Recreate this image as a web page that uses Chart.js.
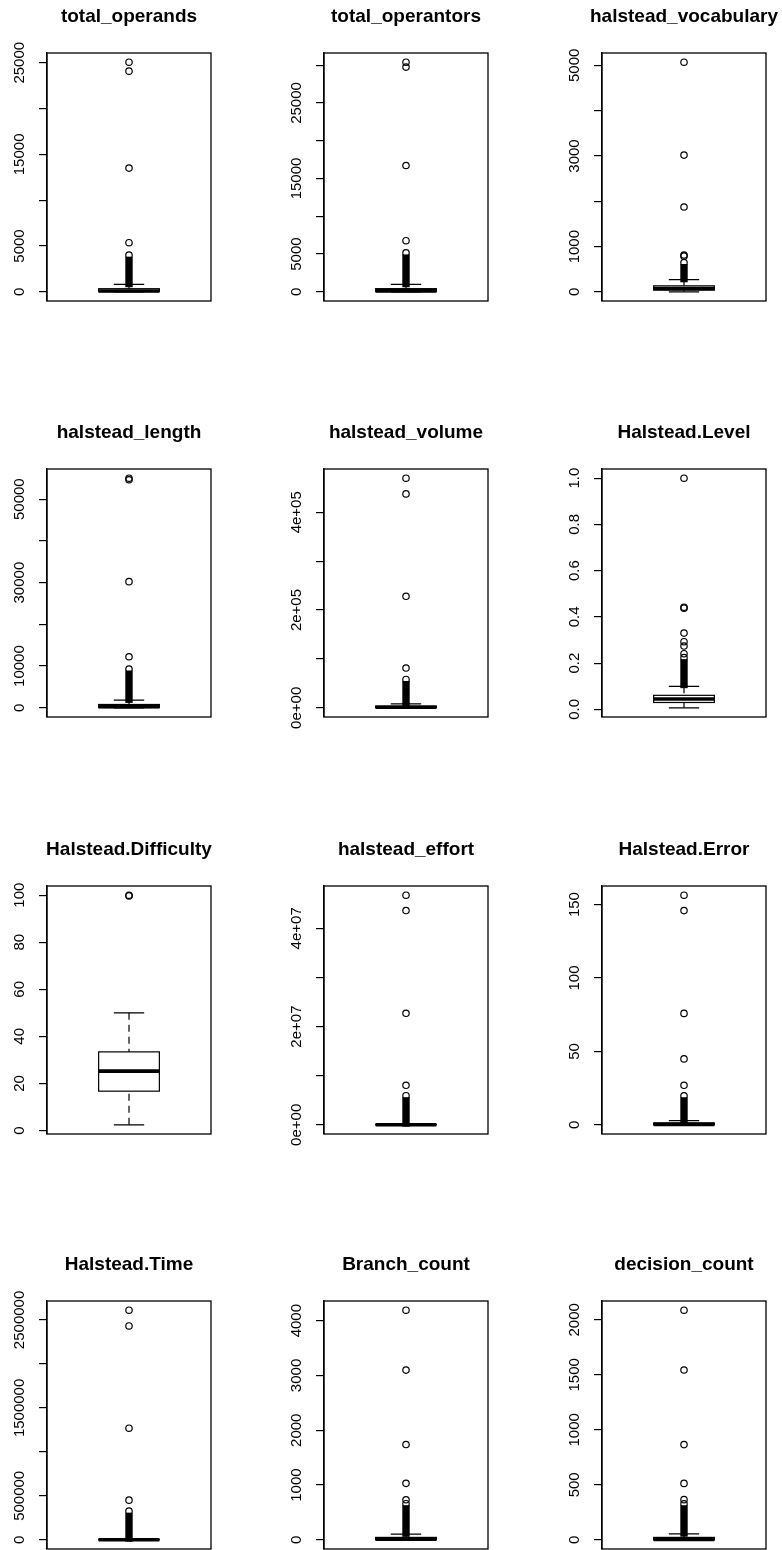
<!doctype html>
<html lang="en">
<head>
<meta charset="utf-8">
<title>Halstead metric boxplots</title>
<style>
  * { margin: 0; padding: 0; }
  html, body { width: 782px; height: 1550px; overflow: hidden; background: #fff; }
  canvas { position: absolute; }
</style>
</head>
<body>
<script src="https://cdn.jsdelivr.net/npm/chart.js/dist/chart.umd.min.js"></script>
<script>
// values
const titles = ['total_operands', 'total_operantors', 'halstead_vocabulary',
  'halstead_length', 'halstead_volume', 'Halstead.Level',
  'Halstead.Difficulty', 'halstead_effort', 'Halstead.Error',
  'Halstead.Time', 'Branch_count', 'decision_count'];

const whiskLo = [0, 0, 3, 0, 0, 0.007, 2.4, 0, 0, 0, 1, 0];
const q1 = [25, 35, 40, 60, 200, 0.030, 16.7, 2000, 0.05, 100, 3, 0];
const medians = [90, 120, 75, 250, 1200, 0.045, 25.2, 15000, 0.3, 800, 10, 4];
const q3 = [340, 420, 135, 800, 3500, 0.061, 33.4, 90000, 1.3, 5000, 45, 22];
const whiskHi = [810, 990, 270, 1850, 8200, 0.100, 50, 220000, 2.9, 12000, 105, 54];

// dense run of overlapping outlier circles just above the upper whisker
const denseLo = [830, 1000, 280, 1900, 8500, 0.105, null, 230000, 3.0, 12500, 110, 56];
const denseHi = [4000, 5150, 650, 9300, 58000, 0.224, null, 5930000, 19.8, 326000, 660, 328];

// separate outliers above the dense run
const outliers = [
  [5360, 13500, 24080, 25060],
  [6770, 16720, 29750, 30400],
  [790, 815, 1875, 3020, 5070],
  [12235, 30230, 54650, 55030],
  [81400, 228100, 437700, 469800],
  [0.241, 0.274, 0.293, 0.330, 0.438, 0.442, 1.0],
  [99.7, 100],
  [8040000, 22700000, 43620000, 46750000],
  [26.9, 44.9, 75.9, 145.9, 156.4],
  [451000, 1269000, 2432000, 2611000],
  [732, 1031, 1739, 3098, 4191],
  [365, 513, 866, 1544, 2088]
];

const tickValues = [
  [0, 5000, 10000, 15000, 20000, 25000],
  [0, 5000, 10000, 15000, 20000, 25000, 30000],
  [0, 1000, 2000, 3000, 4000, 5000],
  [0, 10000, 20000, 30000, 40000, 50000],
  [0, 100000, 200000, 300000, 400000],
  [0, 0.2, 0.4, 0.6, 0.8, 1.0],
  [0, 20, 40, 60, 80, 100],
  [0, 10000000, 20000000, 30000000, 40000000],
  [0, 50, 100, 150],
  [0, 500000, 1000000, 1500000, 2000000, 2500000],
  [0, 1000, 2000, 3000, 4000],
  [0, 500, 1000, 1500, 2000]
];
const tickLabels = [
  ['0', '5000', '', '15000', '', '25000'],
  ['0', '5000', '', '15000', '', '25000', ''],
  ['0', '1000', '', '3000', '', '5000'],
  ['0', '10000', '', '30000', '', '50000'],
  ['0e+00', '', '2e+05', '', '4e+05'],
  ['0.0', '0.2', '0.4', '0.6', '0.8', '1.0'],
  ['0', '20', '40', '60', '80', '100'],
  ['0e+00', '', '2e+07', '', '4e+07'],
  ['0', '50', '100', '150'],
  ['0', '500000', '', '1500000', '', '2500000'],
  ['0', '1000', '2000', '3000', '4000'],
  ['0', '500', '1000', '1500', '2000']
];

// page layout: plot frames of the 4 x 3 grid
const colLeft = [47, 324, 602];
const rowTop = [53, 469, 886, 1301];
const plotW = 164, plotH = 248, marginL = 47, marginT = 53, marginB = 40;

const FONT = 'Liberation Sans, Arial, Helvetica, sans-serif';
Chart.defaults.font.family = FONT;
Chart.defaults.color = '#000';

// draws box, whiskers, median and the dense outlier run, plus frame and axis labels
const boxPlot = {
  id: 'boxPlot',
  beforeDatasetsDraw(chart, args, opts) {
    const i = opts.index;
    const { ctx, scales: { x, y } } = chart;
    const cx = x.getPixelForValue(1);
    const bl = x.getPixelForValue(0.8), br = x.getPixelForValue(1.2);
    const sl = x.getPixelForValue(0.9), sr = x.getPixelForValue(1.1);
    const yLo = y.getPixelForValue(whiskLo[i]), yHi = y.getPixelForValue(whiskHi[i]);
    const yQ1 = y.getPixelForValue(q1[i]), yQ3 = y.getPixelForValue(q3[i]);
    const yMed = y.getPixelForValue(medians[i]);
    ctx.save();
    ctx.strokeStyle = '#000';
    ctx.lineWidth = 1.2;
    // dashed whiskers
    ctx.setLineDash([7, 5]);
    ctx.beginPath();
    ctx.moveTo(cx, yLo); ctx.lineTo(cx, yQ1);
    ctx.moveTo(cx, yHi); ctx.lineTo(cx, yQ3);
    ctx.stroke();
    ctx.setLineDash([]);
    // staples
    ctx.beginPath();
    ctx.moveTo(sl, yLo); ctx.lineTo(sr, yLo);
    ctx.moveTo(sl, yHi); ctx.lineTo(sr, yHi);
    ctx.stroke();
    // box
    ctx.fillStyle = '#fff';
    ctx.fillRect(bl, yQ3, br - bl, yQ1 - yQ3);
    ctx.strokeRect(bl, yQ3, br - bl, yQ1 - yQ3);
    // median
    ctx.lineWidth = 3.6;
    ctx.beginPath();
    ctx.moveTo(bl, yMed); ctx.lineTo(br, yMed);
    ctx.stroke();
    // dense outliers
    if (denseLo[i] !== null) {
      const w = 7.4;
      const yt = y.getPixelForValue(denseHi[i]) + 1.5;
      const yb = y.getPixelForValue(denseLo[i]) + 3;
      ctx.fillStyle = '#000';
      ctx.fillRect(cx - w / 2, yt, w, yb - yt);
    }
    ctx.restore();
  },
  afterDraw(chart, args, opts) {
    const i = opts.index;
    const { ctx, chartArea: { left, top, width, height }, scales: { y } } = chart;
    ctx.save();
    ctx.strokeStyle = '#000';
    ctx.lineWidth = 1.3;
    ctx.strokeRect(left, top, width, height);
    ctx.fillStyle = '#000';
    ctx.font = '15px ' + FONT;
    ctx.textAlign = 'center';
    ctx.textBaseline = 'middle';
    tickValues[i].forEach((v, k) => {
      const lab = tickLabels[i][k];
      if (!lab) return;
      ctx.save();
      ctx.translate(left - 27, y.getPixelForValue(v));
      ctx.rotate(-Math.PI / 2);
      ctx.fillText(lab, 0, 0);
      ctx.restore();
    });
    ctx.restore();
  }
};

titles.forEach((title, i) => {
  const r = Math.floor(i / 3), c = i % 3;
  const canvas = document.createElement('canvas');
  canvas.width = marginL * 2 + plotW;
  canvas.height = marginT + plotH + marginB;
  canvas.style.left = (colLeft[c] - marginL) + 'px';
  canvas.style.top = (rowTop[r] - marginT) + 'px';
  document.body.appendChild(canvas);

  const all = outliers[i].concat(denseHi[i] === null ? [] : [denseHi[i]]);
  const lo = Math.min(whiskLo[i], ...all), hi = Math.max(whiskHi[i], ...all);
  const ext = 0.04 * (hi - lo);

  new Chart(canvas, {
    type: 'scatter',
    data: {
      datasets: [{
        data: all.map(v => ({ x: 1, y: v })),
        pointRadius: 3.2,
        pointHoverRadius: 3.2,
        pointBorderWidth: 1.2,
        pointBorderColor: '#000',
        pointBackgroundColor: 'rgba(0,0,0,0)'
      }]
    },
    options: {
      responsive: false,
      animation: false,
      events: [],
      layout: { padding: { left: 0, right: 0, top: 0, bottom: marginB } },
      scales: {
        x: { type: 'linear', min: 0.46, max: 1.54, display: false },
        y: {
          type: 'linear',
          min: lo - ext,
          max: hi + ext,
          afterBuildTicks: s => { s.ticks = tickValues[i].map(v => ({ value: v })); },
          afterFit: s => { s.width = marginL; },
          ticks: { display: false },
          grid: { drawOnChartArea: false, drawTicks: true, tickLength: 8, color: '#000', lineWidth: 1.2 },
          border: { display: true, color: '#000', width: 1.3 }
        },
        // empty right axis keeps the plot centred under its title
        yRight: {
          type: 'linear',
          position: 'right',
          afterFit: s => { s.width = marginL; },
          ticks: { display: false },
          grid: { display: false },
          border: { display: false }
        }
      },
      plugins: {
        legend: { display: false },
        tooltip: { enabled: false },
        title: {
          display: true,
          text: title,
          color: '#000',
          font: { family: FONT, size: 19, weight: 'bold' },
          padding: { top: 5.6, bottom: 24.6 }
        },
        boxPlot: { index: i }
      }
    },
    plugins: [boxPlot]
  });
});
</script>
</body>
</html>
